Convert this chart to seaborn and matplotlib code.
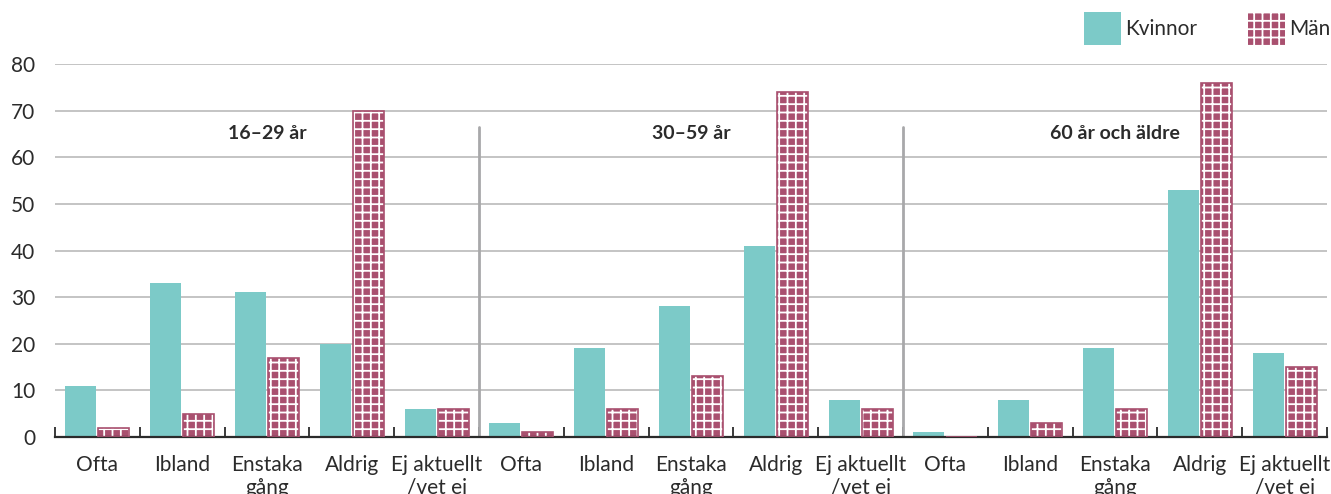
import matplotlib

matplotlib.use("Agg")
import matplotlib.pyplot as plt
import pandas as pd
import seaborn as sns

sns.set_theme(style="white")
plt.rcParams["font.family"] = ["Lato", "DejaVu Sans"]
plt.rcParams["hatch.linewidth"] = 1.3

# data (percent)
age_groups = ["16–29 år", "30–59 år", "60 år och äldre"]
answers = ["Ofta", "Ibland", "Enstaka\ngång", "Aldrig", "Ej aktuellt\n/vet ej"]
kvinnor = [11, 33, 31, 20, 6,
           3, 19, 28, 41, 8,
           1, 8, 19, 53, 18]
man = [2, 5, 17, 70, 6,
       1, 6, 13, 74, 6,
       0, 3, 6, 76, 15]

TEAL = "#7ccac8"
PURPLE = "#a9506f"
TEXT = "#2b2b2b"
FS = 15

n_cat = len(kvinnor)
df = pd.DataFrame({
    "pos": list(range(n_cat)) * 2,
    "kon": ["Kvinnor"] * n_cat + ["Män"] * n_cat,
    "andel": kvinnor + man,
})

fig = plt.figure(figsize=(13.31, 4.94), dpi=100)
ax = fig.add_axes([0.0413, 0.1154, 0.9557, 0.755])

sns.barplot(
    data=df, x="pos", y="andel", hue="kon",
    order=list(range(n_cat)), hue_order=["Kvinnor", "Män"],
    palette=[TEAL, PURPLE], width=0.78, gap=0.06,
    saturation=1, errorbar=None, legend=False, ax=ax, zorder=2,
)

# hatch the Män bars: purple with white grid lines
for cont, label in zip(ax.containers, ["Kvinnor", "Män"]):
    for p in cont:
        p.set_linewidth(0)
        if label == "Män":
            p.set_facecolor(PURPLE)
            p.set_hatch("++")
            p.set_edgecolor("white")
            if hasattr(p, "set_hatchcolor"):
                p.set_hatchcolor("white")

# outlines for the hatched bars
for p in ax.containers[1]:
    ax.add_patch(plt.Rectangle(p.get_xy(), p.get_width(), p.get_height(),
                               fill=False, edgecolor=PURPLE, lw=1.2, zorder=3))

ax.set_xlim(-0.5, n_cat - 0.5)
ax.set_ylim(0, 80)
ax.set_yticks(range(0, 81, 10))
ax.yaxis.grid(True, color="#c4c4c4", lw=1.4, zorder=0)
ax.set_axisbelow(True)
for side in ["top", "left", "right"]:
    ax.spines[side].set_visible(False)
ax.spines["bottom"].set_color(TEXT)
ax.spines["bottom"].set_linewidth(1.6)

ax.set_xticks([i - 0.5 for i in range(n_cat + 1)])
ax.set_xticklabels([])
ax.set_xticks(range(n_cat), minor=True)
ax.set_xticklabels(answers * len(age_groups), minor=True, fontsize=FS,
                   color=TEXT, linespacing=1.2)
ax.tick_params(axis="x", which="major", direction="in", length=7, width=1.3,
               color=TEXT, bottom=True)
ax.tick_params(axis="x", which="minor", length=0, pad=13, bottom=True)
ax.tick_params(axis="y", length=0, labelsize=FS, labelcolor=TEXT, pad=14)
ax.set_xlabel("")
ax.set_ylabel("")

# group separators and group titles
for g, name in enumerate(age_groups):
    mid = g * len(answers) + (len(answers) - 1) / 2
    ax.text(mid, 65.0, name, ha="center", va="center", fontsize=14,
            fontweight="bold", color=TEXT)
    if g > 0:
        ax.plot([g * len(answers) - 0.5] * 2, [0, 66.5], color="#a8a8aa",
                lw=2, zorder=1)

# legend above the plot, top right
handles = [
    plt.Rectangle((0, 0), 1, 1, facecolor=TEAL, lw=0),
    plt.Rectangle((0, 0), 1, 1, facecolor=PURPLE, hatch="++",
                  edgecolor="white", lw=0),
]
if hasattr(handles[1], "set_hatchcolor"):
    handles[1].set_hatchcolor("white")
fig.legend(handles, ["Kvinnor", "Män"], loc="upper right",
           bbox_to_anchor=(1.009, 1.0), ncol=2, frameon=False,
           fontsize=FS, handlelength=1.8, handleheight=2.0,
           handletextpad=0.2, columnspacing=2.4, labelcolor=TEXT,
           borderaxespad=0.3, borderpad=0.3)

fig.savefig("out.png", dpi=100)
